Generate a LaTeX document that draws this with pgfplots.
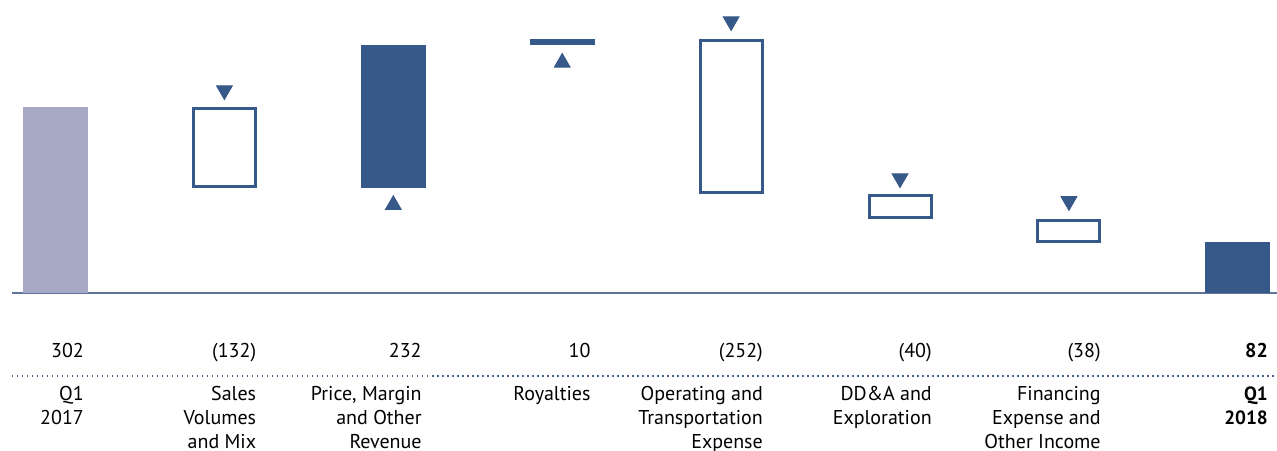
\documentclass[border=0pt]{standalone}
\usepackage{pgfplots}
\pgfplotsset{compat=1.18}
\usepackage{fontspec}
\setmainfont{PT Sans}
\definecolor{dk}{RGB}{55,89,137}
\definecolor{gr}{RGB}{166,170,196}
\definecolor{tx}{RGB}{70,96,142}
\definecolor{ln}{RGB}{95,115,155}
\begin{document}
\begin{tikzpicture}
% 1 px of the reference = 0.5pt; 1 value unit = 0.6159 px
\begin{axis}[
    scale only axis,
    width=638.5pt, height=225pt,
    xmin=-0.3286, xmax=7.232,
    ymin=-254.9, ymax=475.7,
    axis lines=none,
    clip=false,
    every node/.style={font=\fontsize{9.6}{12}\selectfont, text=tx},
    ]
% baseline and dotted separator
\draw[ln, line width=1pt] (axis cs:-0.257,0) -- (axis cs:7.232,0);
\draw[tx, line width=0.7pt, dash pattern=on 0.7pt off 1.8pt] (axis cs:-0.257,-134.8) -- (axis cs:7.232,-134.8);

% start and end totals
\addplot[draw=none, fill=gr] coordinates {(-0.1924,0) (0.1924,0) (0.1924,302) (-0.1924,302)} -- cycle;
\addplot[draw=none, fill=dk] coordinates {(6.8076,0) (7.1924,0) (7.1924,82) (6.8076,82)} -- cycle;
% increases (filled)
\addplot[draw=none, fill=dk] coordinates {(1.8076,170) (2.1924,170) (2.1924,402) (1.8076,402)} -- cycle;
\addplot[draw=none, fill=dk] coordinates {(2.8076,402) (3.1924,402) (3.1924,412) (2.8076,412)} -- cycle;
% decreases (outlined)
\addplot[draw=dk, line width=1.5pt, fill=white] coordinates {(0.8165,172.4) (1.1835,172.4) (1.1835,299.6) (0.8165,299.6)} -- cycle;
\addplot[draw=dk, line width=1.5pt, fill=white] coordinates {(3.8165,162.4) (4.1835,162.4) (4.1835,409.6) (3.8165,409.6)} -- cycle;
\addplot[draw=dk, line width=1.5pt, fill=white] coordinates {(4.8165,122.4) (5.1835,122.4) (5.1835,157.6) (4.8165,157.6)} -- cycle;
\addplot[draw=dk, line width=1.5pt, fill=white] coordinates {(5.8165,84.4) (6.1835,84.4) (6.1835,117.6) (5.8165,117.6)} -- cycle;

% direction markers
\addplot[only marks, mark=triangle*, mark size=4.6pt, color=dk] coordinates {(2,143) (3,374)};
\addplot[only marks, mark=triangle*, mark size=4.6pt, color=dk, mark options={rotate=180}]
    coordinates {(1,329) (4,441) (5,186) (6,149)};

% value row
\node[anchor=base east, inner sep=0] at (axis cs:0.17,-105.5) {302};
\node[anchor=base east, inner sep=0] at (axis cs:1.19,-105.5) {(132)};
\node[anchor=base east, inner sep=0] at (axis cs:2.17,-105.5) {232};
\node[anchor=base east, inner sep=0] at (axis cs:3.17,-105.5) {10};
\node[anchor=base east, inner sep=0] at (axis cs:4.19,-105.5) {(252)};
\node[anchor=base east, inner sep=0] at (axis cs:5.19,-105.5) {(40)};
\node[anchor=base east, inner sep=0] at (axis cs:6.19,-105.5) {(38)};
\node[anchor=base east, inner sep=0] at (axis cs:7.18,-105.5) {\bfseries 82};

% category labels
\node[anchor=north east, inner sep=0, align=right] at (axis cs:0.17,-151) {Q1\\2017};
\node[anchor=north east, inner sep=0, align=right] at (axis cs:1.19,-151) {Sales\\Volumes\\and Mix};
\node[anchor=north east, inner sep=0, align=right] at (axis cs:2.17,-151) {Price, Margin\\and Other\\Revenue};
\node[anchor=north east, inner sep=0, align=right] at (axis cs:3.17,-151) {Royalties};
\node[anchor=north east, inner sep=0, align=right] at (axis cs:4.19,-151) {Operating and\\Transportation\\Expense};
\node[anchor=north east, inner sep=0, align=right] at (axis cs:5.19,-151) {DD\&A and\\Exploration};
\node[anchor=north east, inner sep=0, align=right] at (axis cs:6.19,-151) {Financing\\Expense and\\Other Income};
\node[anchor=north east, inner sep=0, align=right, font=\fontsize{9.6}{12}\selectfont\bfseries] at (axis cs:7.18,-151) {Q1\\2018};
\end{axis}
\pgfresetboundingbox
\path[use as bounding box] (0,0) rectangle (638.5pt,225pt);
\end{tikzpicture}
\end{document}
